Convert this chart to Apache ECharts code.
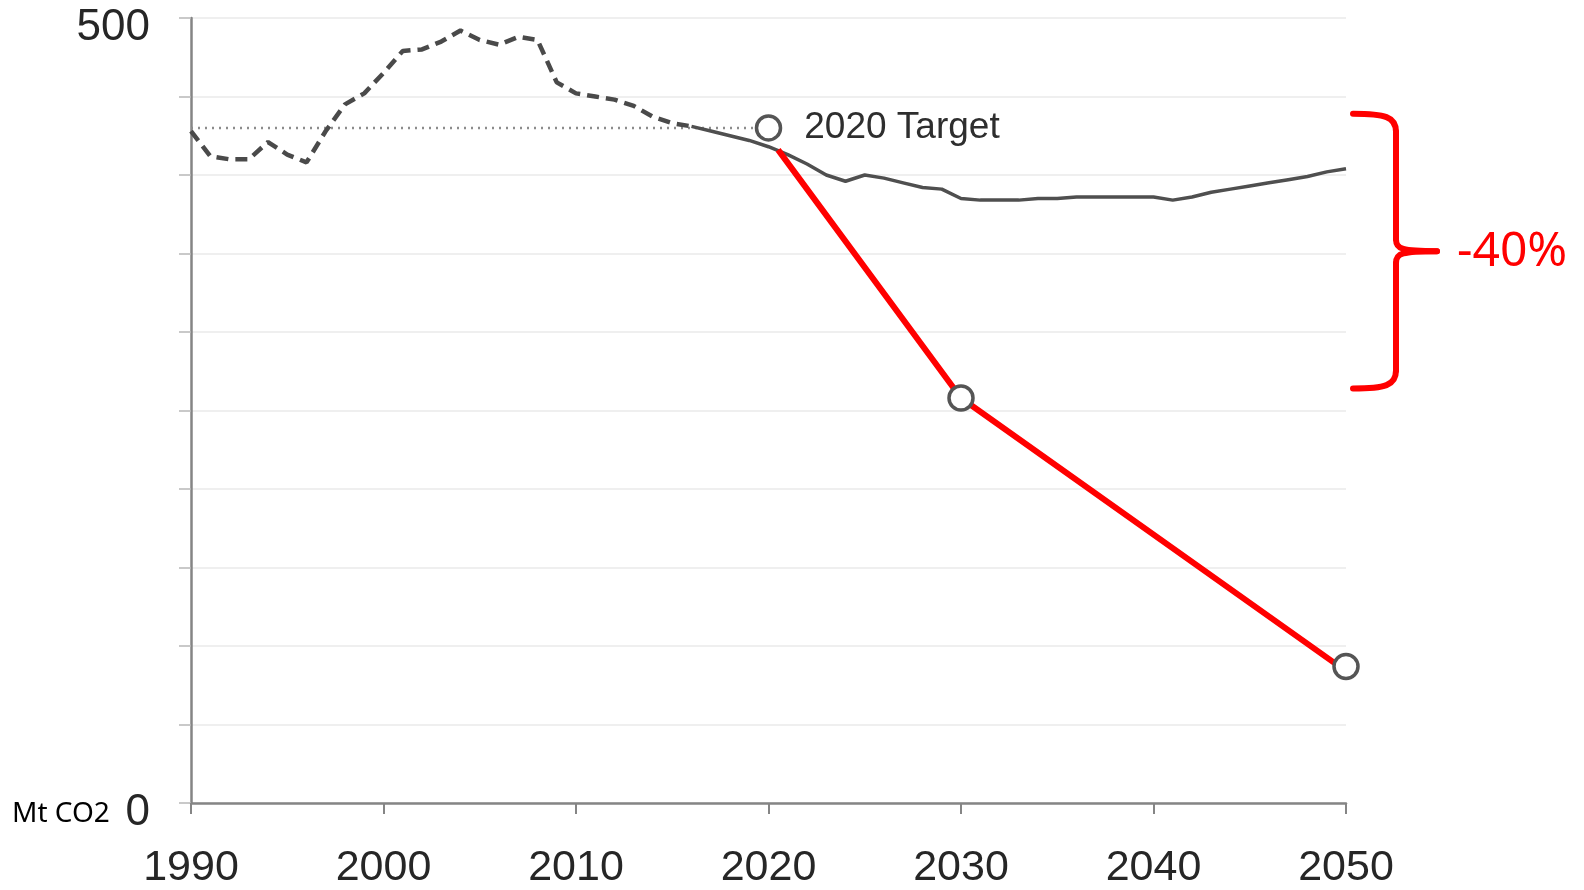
<!DOCTYPE html>
<html>
<head>
<meta charset="utf-8">
<script src="https://cdn.jsdelivr.net/npm/echarts@6/dist/echarts.min.js"></script>
<style>
    html, body { margin: 0; padding: 0; background: #fff; }
    #main { width: 1584px; height: 890px; }
</style>
</head>
<body>
<div id="main"></div>
<script>
// emissions, Mt CO2
var histYears = [1990, 1991, 1992, 1993, 1994, 1995, 1996, 1997, 1998, 1999, 2000, 2001, 2002, 2003,
    2004, 2005, 2006, 2007, 2008, 2009, 2010, 2011, 2012, 2013, 2014, 2015, 2016];
var histValues = [428, 412, 410, 410, 421, 413, 408, 428, 445, 452, 465, 479, 480, 485,
    492, 486, 483, 488, 486, 459, 452, 450, 448, 444, 437, 433, 431];

var projYears = [2016, 2017, 2018, 2019, 2020, 2021, 2022, 2023, 2024, 2025, 2026, 2027, 2028,
    2029, 2030, 2031, 2032, 2033, 2034, 2035, 2036, 2037, 2038, 2039, 2040, 2041, 2042, 2043,
    2044, 2045, 2046, 2047, 2048, 2049, 2050];
var projValues = [431, 428, 425, 422, 418, 413, 407, 400, 396, 400, 398, 395, 392,
    391, 385, 384, 384, 384, 385, 385, 386, 386, 386, 386, 386, 384, 386, 389,
    391, 393, 395, 397, 399, 402, 404];

var targetYears = [2020, 2030, 2050];
var targetValues = [430, 258, 87];
var targetLabels = ['2020 Target', '', ''];

var pathYears = [2020.5, 2030, 2050];
var pathValues = [416, 258, 84];

var level1990 = [[1990, 430], [2020, 430]];

var xTicks = [1990, 2000, 2010, 2020, 2030, 2040, 2050];
var yTickLabels = [0, 500];

var braceRange = [439, 264]; // values spanned by the red bracket
var braceText = '-40%';

function zip(xs, ys) {
    var out = [];
    for (var i = 0; i < xs.length; i++) {
        out.push([xs[i], ys[i]]);
    }
    return out;
}

var bigFont = 'Liberation Sans';

var option = {
    animation: false,
    backgroundColor: '#fff',
    grid: {
        left: 191,
        right: 238,
        top: 18,
        bottom: 86
    },
    xAxis: {
        type: 'value',
        min: 1990,
        max: 2050,
        interval: 10,
        axisLine: {
            lineStyle: { color: '#858585', width: 2.5 }
        },
        axisTick: {
            length: 11,
            lineStyle: { color: '#858585', width: 2 }
        },
        axisLabel: {
            margin: 44,
            fontFamily: bigFont,
            fontSize: 43,
            color: '#262626',
            formatter: function(v) {
                return xTicks.indexOf(v) >= 0 ? String(v) : '';
            }
        },
        splitLine: { show: false }
    },
    yAxis: {
        type: 'value',
        min: 0,
        max: 500,
        interval: 50,
        axisLine: {
            show: true,
            lineStyle: { color: '#858585', width: 2.5 }
        },
        axisTick: {
            show: true,
            inside: false,
            length: 12,
            lineStyle: { color: '#b8b8b8', width: 1.5 }
        },
        axisLabel: {
            margin: 41,
            fontFamily: bigFont,
            fontSize: 44,
            color: '#262626',
            verticalAlign: 'top',
            lineHeight: 20,
            formatter: function(v) {
                return yTickLabels.indexOf(v) >= 0 ? String(v) : '';
            }
        },
        splitLine: {
            lineStyle: { color: '#efefef', width: 2 }
        }
    },
    series: [{
            name: '1990 level',
            type: 'line',
            data: level1990,
            symbol: 'none',
            lineStyle: { color: '#8c8c8c', width: 2.5, type: [2, 5] },
            z: 2
        },
        {
            name: 'historic',
            type: 'line',
            data: zip(histYears, histValues),
            symbol: 'none',
            lineStyle: { color: '#4a4a4a', width: 4.5, type: [12, 7] },
            z: 3
        },
        {
            name: 'projection',
            type: 'line',
            data: zip(projYears, projValues),
            symbol: 'none',
            lineStyle: { color: '#4f4f4f', width: 3.5 },
            z: 3
        },
        {
            name: 'path',
            type: 'line',
            data: zip(pathYears, pathValues),
            symbol: 'none',
            lineStyle: { color: '#ff0000', width: 6 },
            z: 4
        },
        {
            name: 'targets',
            type: 'scatter',
            data: targetYears.map(function(y, i) {
                return {
                    value: [y, targetValues[i]],
                    label: {
                        show: targetLabels[i] !== '',
                        formatter: targetLabels[i]
                    }
                };
            }),
            symbol: 'circle',
            symbolSize: 24,
            itemStyle: {
                color: '#fff',
                borderColor: '#555',
                borderWidth: 3.5,
                opacity: 1
            },
            label: {
                position: 'right',
                distance: 22,
                fontFamily: bigFont,
                fontSize: 37,
                color: '#2e2e2e'
            },
            emphasis: { disabled: true },
            z: 5
        }
    ]
};

var chart = echarts.init(document.getElementById('main'));
chart.setOption(option);

// red bracket and note, placed from the axis scale
function drawBrace() {
    var top = chart.convertToPixel({ gridIndex: 0 }, [2050, braceRange[0]]);
    var bot = chart.convertToPixel({ gridIndex: 0 }, [2050, braceRange[1]]);
    var x0 = top[0] + 7;
    var xs = top[0] + 50;
    var xt = top[0] + 91;
    var y0 = top[1];
    var y1 = bot[1];
    var ym = (y0 + y1) / 2;
    var st = { stroke: '#ff0000', lineWidth: 6, fill: null, lineCap: 'round' };

    chart.setOption({
        graphic: [
            { type: 'bezierCurve', shape: { x1: x0, y1: y0, cpx1: xs - 11, cpy1: y0, cpx2: xs, cpy2: y0 + 3, x2: xs, y2: y0 + 18 }, style: st },
            { type: 'line', shape: { x1: xs, y1: y0 + 18, x2: xs, y2: ym - 12 }, style: st },
            { type: 'bezierCurve', shape: { x1: xs, y1: ym - 12, cpx1: xs, cpy1: ym - 2, cpx2: xs + 6, cpy2: ym, x2: xt, y2: ym }, style: st },
            { type: 'bezierCurve', shape: { x1: xt, y1: ym, cpx1: xs + 6, cpy1: ym, cpx2: xs, cpy2: ym + 2, x2: xs, y2: ym + 12 }, style: st },
            { type: 'line', shape: { x1: xs, y1: ym + 12, x2: xs, y2: y1 - 18 }, style: st },
            { type: 'bezierCurve', shape: { x1: xs, y1: y1 - 18, cpx1: xs, cpy1: y1 - 3, cpx2: xs - 11, cpy2: y1, x2: x0, y2: y1 }, style: st },
            {
                type: 'text',
                style: {
                    x: xt + 20,
                    y: ym + 1,
                    text: braceText,
                    fontFamily: 'Noto Sans',
                    fontSize: 48,
                    fill: '#ff0000',
                    verticalAlign: 'middle'
                }
            },
            {
                type: 'text',
                style: {
                    x: 12,
                    y: 814,
                    text: 'Mt CO2',
                    fontFamily: 'Noto Sans',
                    fontSize: 28,
                    fill: '#000',
                    verticalAlign: 'middle'
                }
            }
        ]
    });
}
drawBrace();
</script>
</body>
</html>
